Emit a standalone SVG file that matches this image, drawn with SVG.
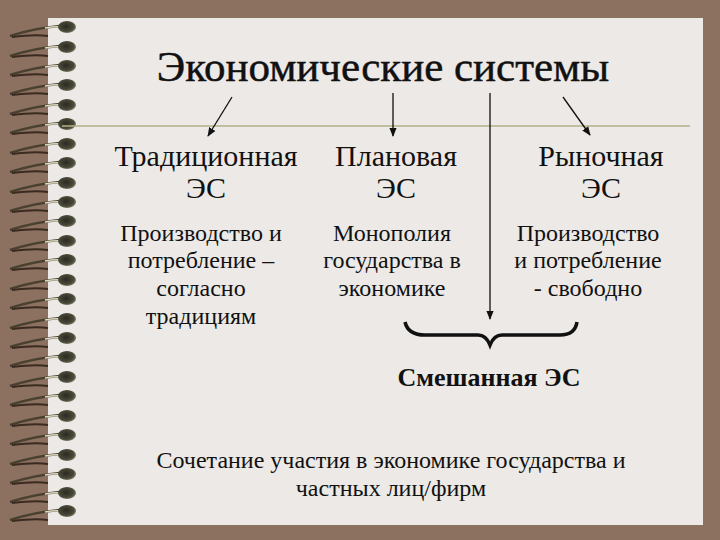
<svg xmlns="http://www.w3.org/2000/svg" width="720" height="540" viewBox="0 0 720 540">
<defs>
<style>
text{font-family:"Liberation Serif","DejaVu Serif",serif;fill:#111;text-anchor:middle}
.h{font-size:30px}
.b{font-size:24px}
.c{stroke:#111;stroke-width:1.3;fill:none}
</style>
<marker id="a" viewBox="0 0 10 10" refX="9" refY="5" markerWidth="7" markerHeight="7" orient="auto"><path d="M0,1 L10,5 L0,9 Z" fill="#111"/></marker>
<radialGradient id="rg" cx="0.45" cy="0.45" r="0.6"><stop offset="0" stop-color="#2a2a22"/><stop offset="0.7" stop-color="#4a4a3a"/><stop offset="1" stop-color="#8a8a70"/></radialGradient>
<g id="ring"><path d="M10,22 Q35,14 60,12" stroke="#4a4030" stroke-width="2.5" fill="none"/><path d="M12,23 Q35,20 48,22" stroke="#3a2a20" stroke-width="2" fill="none"/><path d="M45,14 Q55,12 62,13" stroke="#ddd8c0" stroke-width="1.5" fill="none"/><ellipse cx="67" cy="13" rx="9" ry="6" fill="url(#rg)"/></g>
</defs>
<rect width="720" height="540" fill="#8C7160"/>
<rect x="48" y="18" width="655" height="507" fill="#ECE9E6"/>
<g id="spiral">
<use href="#ring" y="14"/><use href="#ring" y="34"/><use href="#ring" y="53"/><use href="#ring" y="72"/><use href="#ring" y="92"/><use href="#ring" y="111"/><use href="#ring" y="131"/><use href="#ring" y="150"/><use href="#ring" y="170"/><use href="#ring" y="189"/><use href="#ring" y="208"/><use href="#ring" y="228"/><use href="#ring" y="247"/><use href="#ring" y="267"/><use href="#ring" y="286"/><use href="#ring" y="306"/><use href="#ring" y="325"/><use href="#ring" y="344"/><use href="#ring" y="364"/><use href="#ring" y="383"/><use href="#ring" y="403"/><use href="#ring" y="422"/><use href="#ring" y="442"/><use href="#ring" y="461"/><use href="#ring" y="480"/><use href="#ring" y="498"/>
</g>
<line x1="62" y1="126" x2="690" y2="126" stroke="#B5B08A" stroke-width="1.5"/>
<g id="title"><text x="383" y="81" font-size="43" stroke="#111" stroke-width="0.5">Экономические системы</text></g>
<g id="connectors">
<line class="c" x1="232" y1="97" x2="208" y2="136" marker-end="url(#a)"/>
<line class="c" x1="393" y1="93" x2="393" y2="136" marker-end="url(#a)"/>
<line class="c" x1="563" y1="97" x2="590" y2="135" marker-end="url(#a)"/>
<line class="c" x1="490" y1="93" x2="490" y2="319" marker-end="url(#a)"/>
<path d="M405,322 Q408,335 425,335 L478,335 Q486,335 490,345 Q494,335 502,335 L560,335 Q575,335 577,322" stroke="#111" stroke-width="3.5" fill="none"/>
</g>
<g id="trad"><text class="h" x="206" y="166">Традиционная</text><text class="h" x="206" y="198">ЭС</text>
<text class="b" x="201" y="241">Производство и</text><text class="b" x="201" y="268">потребление –</text><text class="b" x="201" y="296">согласно</text><text class="b" x="201" y="324">традициям</text></g>
<g id="plan"><text class="h" x="396" y="166">Плановая</text><text class="h" x="396" y="198">ЭС</text>
<text class="b" x="392" y="241">Монополия</text><text class="b" x="392" y="268">государства в</text><text class="b" x="392" y="296">экономике</text></g>
<g id="market"><text class="h" x="601" y="166">Рыночная</text><text class="h" x="601" y="198">ЭС</text>
<text class="b" x="588" y="241">Производство</text><text class="b" x="588" y="268">и потребление</text><text class="b" x="588" y="296">- свободно</text></g>
<g id="mixed"><text x="489" y="386" font-size="26" font-weight="bold">Смешанная ЭС</text>
<text class="b" x="391" y="468">Сочетание участия в экономике государства и</text><text class="b" x="391" y="496">частных лиц/фирм</text></g>
</svg>
